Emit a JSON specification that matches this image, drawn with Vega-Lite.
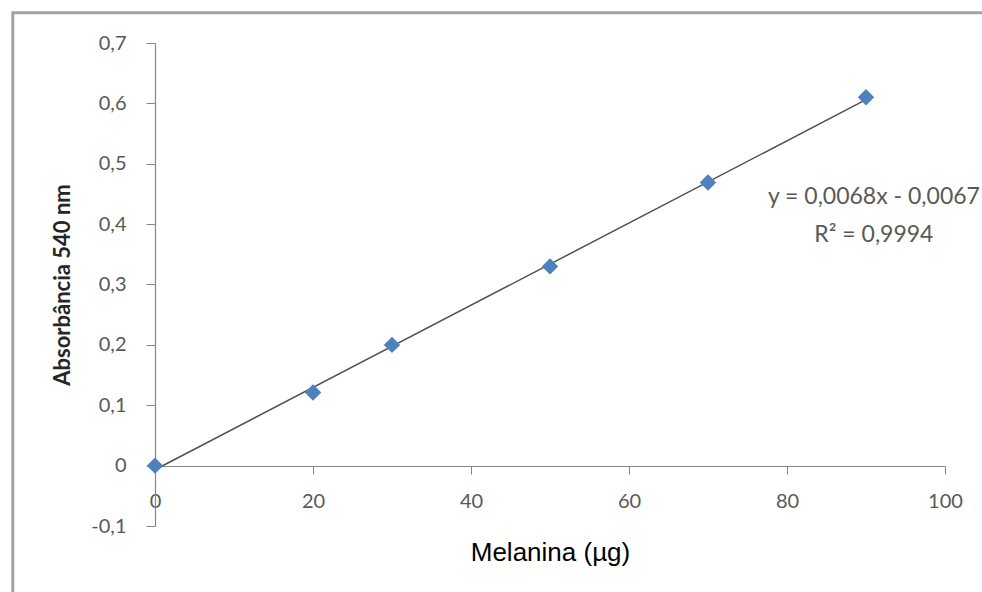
{
  "$schema": "https://vega.github.io/schema/vega-lite/v6.json",
  "width": 790,
  "height": 483,
  "autosize": {"type": "none"},
  "padding": {"left": 155, "top": 43, "right": 37, "bottom": 66},
  "background": "white",
  "config": {
    "view": {"stroke": null},
    "locale": {"number": {"decimal": ",", "thousands": ".", "grouping": [3], "currency": ["", ""], "minus": "-"}}
  },
  "datasets": {
    "points": [
      {"melanina": 0, "abs": 0.0},
      {"melanina": 20, "abs": 0.121},
      {"melanina": 30, "abs": 0.2},
      {"melanina": 50, "abs": 0.33},
      {"melanina": 70, "abs": 0.469},
      {"melanina": 90, "abs": 0.61}
    ]
  },
  "layer": [
    {
      "data": {"values": [{}]},
      "mark": {"type": "rect", "fill": null, "stroke": "#a3a3a3", "strokeWidth": 3, "clip": false},
      "encoding": {
        "x": {"datum": -18.0, "type": "quantitative", "scale": {"domain": [0, 100], "nice": false, "zero": false}},
        "x2": {"datum": 110},
        "y": {"datum": 0.75, "type": "quantitative", "scale": {"domain": [-0.1, 0.7], "nice": false, "zero": false}},
        "y2": {"datum": -0.3}
      }
    },
    {
      "data": {"name": "points"},
      "transform": [{"regression": "abs", "on": "melanina", "extent": [0, 90]}],
      "mark": {"type": "line", "color": "#505050", "strokeWidth": 1.5},
      "encoding": {
        "x": {"field": "melanina", "type": "quantitative"},
        "y": {"field": "abs", "type": "quantitative"}
      }
    },
    {
      "data": {"name": "points"},
      "mark": {"type": "point", "shape": "diamond", "filled": true, "color": "#4F81BD", "size": 270, "opacity": 1},
      "encoding": {
        "x": {
          "field": "melanina", "type": "quantitative",
          "scale": {"domain": [0, 100], "nice": false, "zero": false},
          "axis": {
            "title": "Melanina (µg)",
            "values": [0, 20, 40, 60, 80, 100],
            "format": "d",
            "offset": -60,
            "grid": false,
            "labelFlush": false,
            "labelOverlap": false,
            "domainColor": "#868686",
            "domainWidth": 1.2,
            "tickColor": "#868686",
            "tickSize": 8,
            "labelPadding": 17,
            "labelFont": "Lato",
            "labelFontSize": 20,
            "labelColor": "#595959",
            "titleFont": "Liberation Sans",
            "titleFontSize": 26,
            "titleFontWeight": "normal",
            "titleColor": "#000000",
            "titlePadding": 28
          }
        },
        "y": {
          "field": "abs", "type": "quantitative",
          "scale": {"domain": [-0.1, 0.7], "nice": false, "zero": false},
          "axis": {
            "title": "Absorbância 540 nm",
            "values": [-0.1, 0, 0.1, 0.2, 0.3, 0.4, 0.5, 0.6, 0.7],
            "format": ".1~f",
            "grid": false,
            "labelOverlap": false,
            "domainColor": "#868686",
            "domainWidth": 1.2,
            "tickColor": "#868686",
            "tickSize": 9,
            "labelPadding": 20,
            "labelFont": "Lato",
            "labelFontSize": 20,
            "labelColor": "#595959",
            "titleFont": "Lato",
            "titleFontSize": 22,
            "titleFontWeight": "bold",
            "titleColor": "#262626",
            "titlePadding": 16
          }
        }
      }
    },
    {
      "data": {"values": [{}]},
      "mark": {"type": "text", "text": "y = 0,0068x - 0,0067", "font": "Lato", "fontSize": 23, "color": "#595959", "align": "center", "baseline": "middle"},
      "encoding": {
        "x": {"datum": 91, "type": "quantitative"},
        "y": {"datum": 0.445, "type": "quantitative"}
      }
    },
    {
      "data": {"values": [{}]},
      "mark": {"type": "text", "text": "R² = 0,9994", "font": "Lato", "fontSize": 23, "color": "#595959", "align": "center", "baseline": "middle"},
      "encoding": {
        "x": {"datum": 91, "type": "quantitative"},
        "y": {"datum": 0.382, "type": "quantitative"}
      }
    }
  ]
}
